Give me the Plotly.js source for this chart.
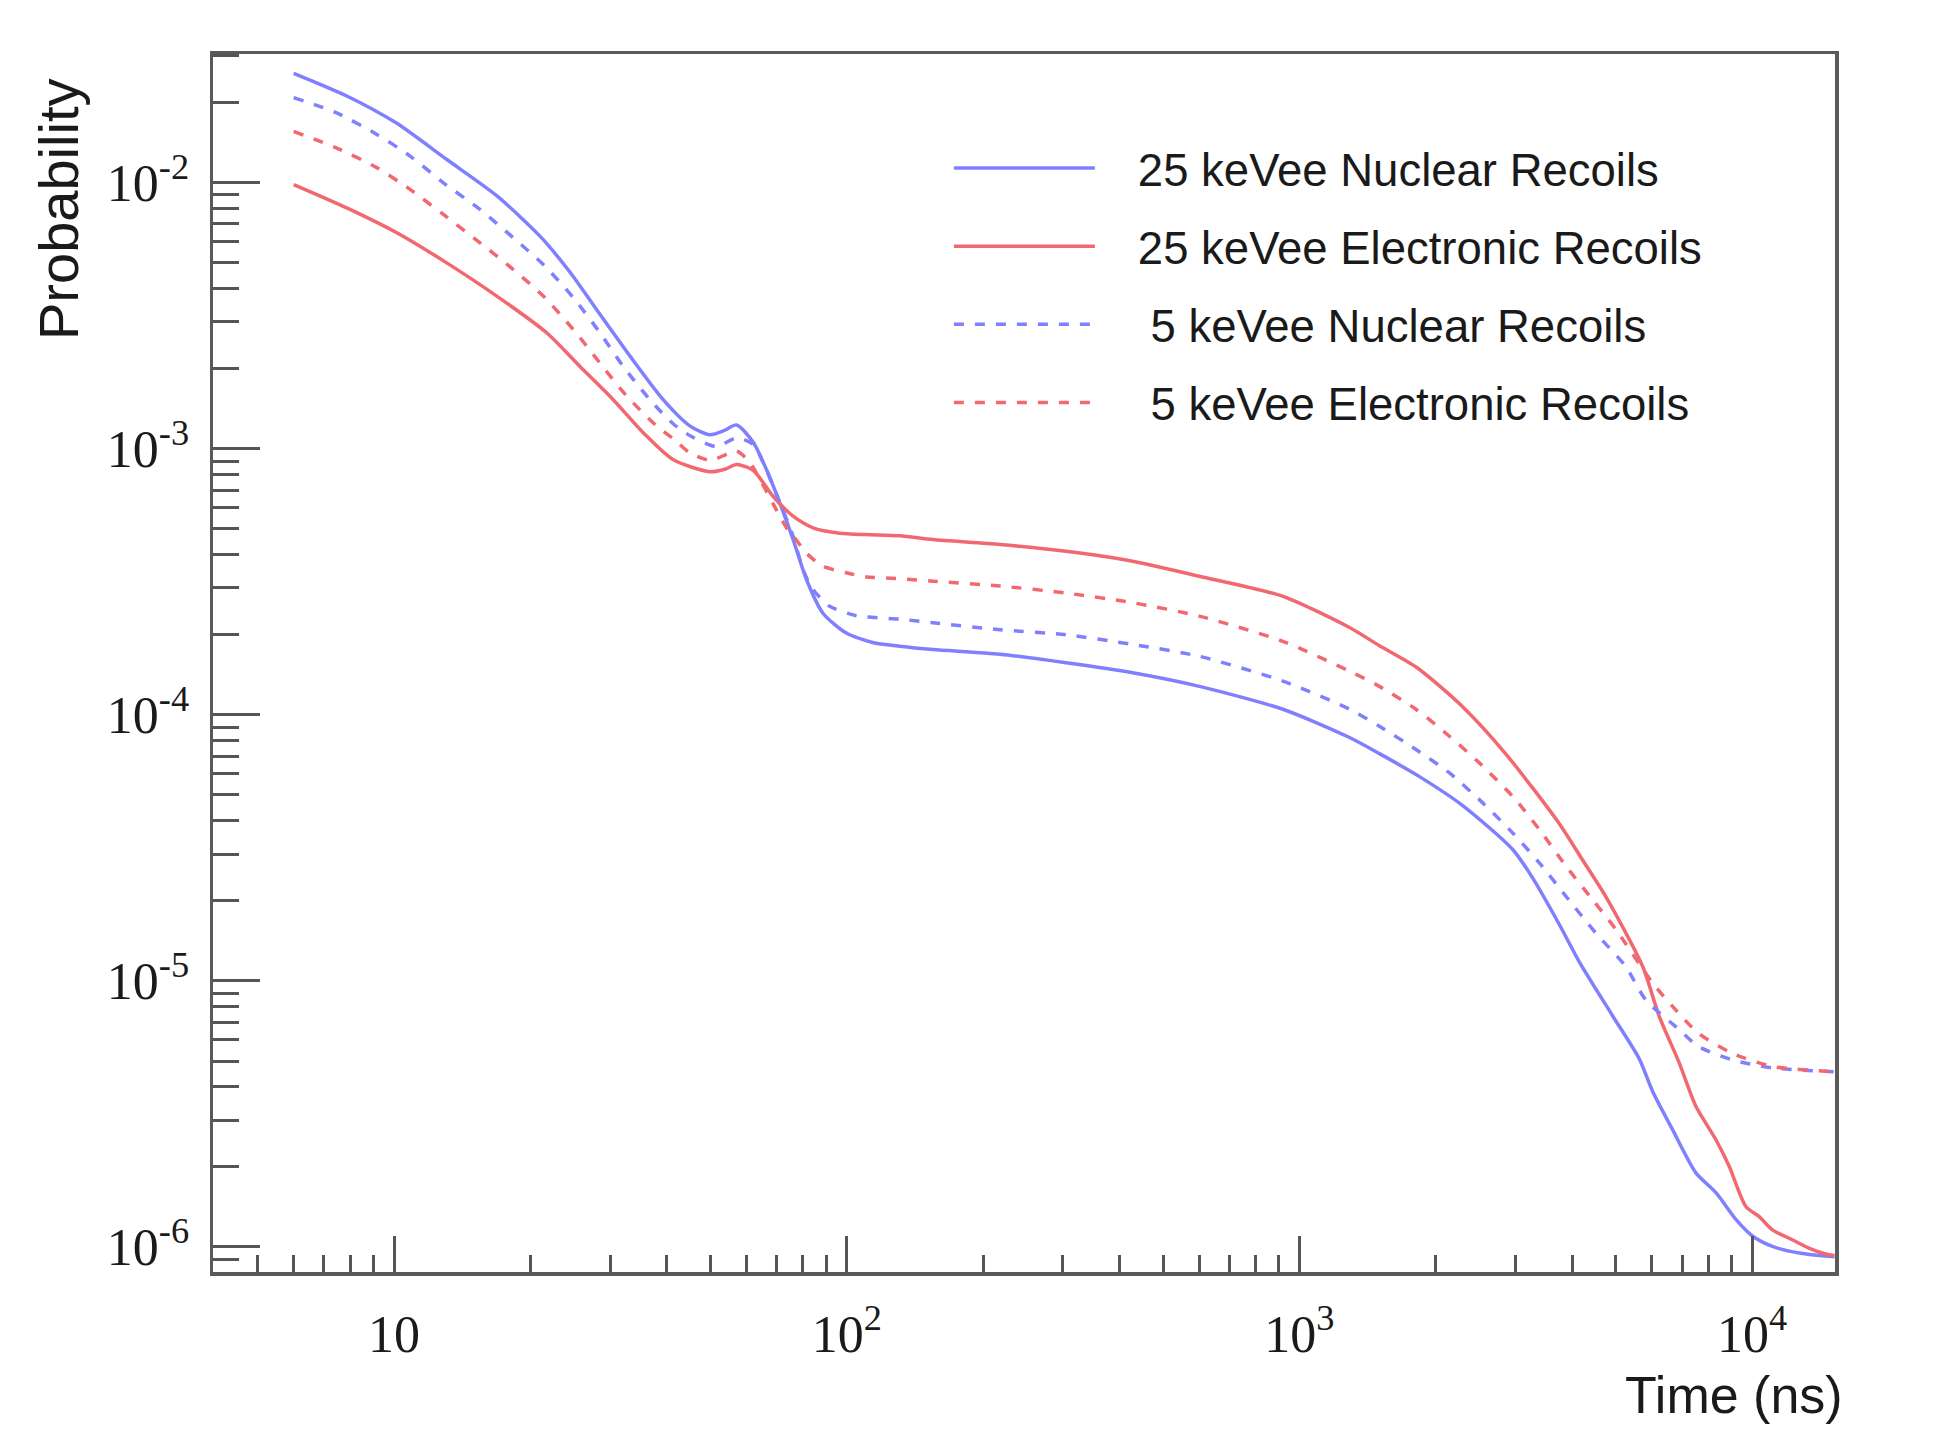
<!DOCTYPE html>
<html>
<head>
<meta charset="utf-8">
<script src="https://cdn.plot.ly/plotly-3.0.1.min.js"></script>
<style>html,body{margin:0;padding:0;background:#fff;}#chart{width:1942px;height:1455px;}</style>
</head>
<body>
<div id="chart"></div>
<script>
// ---- data (time in ns, probability) ----
const seriesNames = ['25 keVee Nuclear Recoils', '25 keVee Electronic Recoils', '5 keVee Nuclear Recoils', '5 keVee Electronic Recoils'];

const nr25Time = [6.0, 7.86, 10.1, 13.1, 16.9, 21.0, 24.5, 28.0, 33.2, 39.3, 45.0, 49.8, 53.5, 57.1, 62.1, 66.5, 71.1, 76.1, 81.5, 88.6, 99.8, 114, 131, 155, 218, 305, 428, 601, 919, 1290, 1502, 1841, 2294, 2958, 3273, 3750, 4150, 4916, 5630, 6025, 6670, 7510, 8318, 9205, 10015, 11086, 12700, 14790, 15200];
const nr25Prob = [0.0258, 0.0212, 0.0168, 0.0122, 0.00891, 0.0063, 0.0046, 0.00334, 0.00223, 0.00153, 0.00122, 0.00113, 0.00117, 0.00123, 0.00106, 0.000834, 0.000627, 0.000457, 0.000322, 0.000241, 0.000203, 0.000187, 0.000181, 0.000176, 0.000169, 0.000157, 0.000144, 0.000128, 0.000105, 8.22e-5, 7.15e-5, 5.86e-5, 4.56e-5, 3.12e-5, 2.44e-5, 1.63e-5, 1.18e-5, 7.4e-6, 5.1e-6, 3.85e-6, 2.76e-6, 1.9e-6, 1.6e-6, 1.27e-6, 1.1e-6, 1.005e-6, 9.49e-7, 9.22e-7, 9.2e-7];

const er25Time = [6.0, 7.86, 10.14, 13.07, 16.86, 21.73, 25.74, 30.49, 35.5, 41.4, 49.8, 54.0, 57.1, 62.1, 68.8, 76.1, 84.2, 96.5, 110.5, 131, 155, 218, 305, 428, 601, 919, 1290, 1502, 1813, 2290, 2864, 3750, 4214, 4761, 5728, 6233, 6901, 7510, 8318, 8897, 9685, 10365, 11086, 12256, 13344, 14766, 15200];
const er25Prob = [0.00985, 0.00805, 0.00649, 0.005, 0.00375, 0.00273, 0.00204, 0.00153, 0.00115, 0.000909, 0.00082, 0.00084, 0.000873, 0.000831, 0.000662, 0.000558, 0.000505, 0.000482, 0.000476, 0.000471, 0.000456, 0.000437, 0.000412, 0.000378, 0.000332, 0.000279, 0.000213, 0.000182, 0.000151, 0.0001075, 7.09e-5, 3.9e-5, 2.86e-5, 2.06e-5, 1.135e-5, 7.36e-6, 4.92e-6, 3.38e-6, 2.53e-6, 2.01e-6, 1.42e-6, 1.3e-6, 1.16e-6, 1.065e-6, 9.91e-7, 9.35e-7, 9.3e-7];

const nr5Time = [6.0, 7.47, 9.16, 10.85, 12.85, 15.48, 18.34, 21.36, 24.88, 28.5, 32.08, 36.74, 41.4, 45.5, 51.6, 57.1, 62.1, 66.5, 71.1, 76.1, 80.1, 84.25, 91.7, 105, 131, 155, 218, 305, 428, 601, 919, 1290, 1502, 1809, 2144, 2540, 2958, 3387, 3879, 4511, 5253, 5818, 6901, 7600, 9005, 11086, 14790, 15200];
const nr5Prob = [0.0209, 0.0183, 0.0152, 0.0126, 0.0100, 0.00794, 0.00621, 0.00493, 0.0037, 0.00273, 0.00204, 0.00153, 0.00124, 0.00111, 0.00102, 0.0011, 0.00104, 0.00083, 0.00063, 0.00047, 0.00035, 0.000296, 0.000256, 0.000236, 0.000229, 0.000222, 0.000209, 0.0002, 0.000184, 0.000166, 0.000134, 0.000105, 9.06e-5, 7.41e-5, 6.05e-5, 4.67e-5, 3.6e-5, 2.78e-5, 2.08e-5, 1.515e-5, 1.135e-5, 8.5e-6, 6.56e-6, 5.68e-6, 5.06e-6, 4.71e-6, 4.57e-6, 4.56e-6];

const er5Time = [6.0, 7.47, 9.16, 10.85, 12.85, 15.48, 18.34, 21.36, 24.88, 28.5, 32.64, 38.01, 41.4, 45.0, 50.0, 57.1, 61.1, 64.3, 68.8, 73.6, 76.1, 81.5, 88.6, 99.8, 110.5, 131, 155, 218, 305, 428, 601, 919, 1290, 1502, 1809, 2144, 2497, 2958, 3387, 3879, 4442, 5001, 6025, 6670, 7600, 9005, 11086, 14790, 15200];
const er5Prob = [0.0156, 0.0135, 0.0114, 0.00944, 0.0076, 0.00595, 0.00472, 0.00375, 0.00281, 0.0021, 0.00158, 0.00122, 0.00109, 0.000966, 0.000905, 0.00098, 0.000888, 0.000767, 0.00062, 0.000505, 0.000472, 0.000405, 0.000362, 0.000342, 0.00033, 0.000325, 0.000318, 0.000305, 0.000287, 0.000264, 0.000235, 0.000189, 0.000146, 0.000128, 0.000105, 8.31e-5, 6.6e-5, 4.94e-5, 3.71e-5, 2.7e-5, 2.02e-5, 1.56e-5, 9.83e-6, 8.02e-6, 6.37e-6, 5.36e-6, 4.77e-6, 4.57e-6, 4.56e-6];

const xTickVals = [10, 100, 1000, 10000];
const xTickText = ['10', '10<sup>2</sup>', '10<sup>3</sup>', '10<sup>4</sup>'];
const yTickVals = [1e-6, 1e-5, 1e-4, 1e-3, 1e-2];
const yTickText = ['10<sup>-6</sup>', '10<sup>-5</sup>', '10<sup>-4</sup>', '10<sup>-3</sup>', '10<sup>-2</sup>'];

// ---- styling ----
const BLUE = 'rgb(128,128,255)';
const RED = 'rgb(242,104,112)';
const NB = '\u00A0';

function minorVals(lo, hi) {
  const v = [];
  for (let e = lo; e <= hi; e++) for (let k = 2; k <= 9; k++) v.push(k * Math.pow(10, e));
  return v;
}

function mk(x, y, name, color, dash, group, pad) {
  return {
    x: x, y: y, name: pad + name, type: 'scatter', mode: 'lines',
    legendgroup: group,
    line: {color: color, width: 3.5, dash: dash, shape: 'spline', smoothing: 0.7},
    hoverinfo: 'x+y+name'
  };
}

const traces = [
  mk(nr25Time, nr25Prob, seriesNames[0], BLUE, 'solid', 'a', NB.repeat(3)),
  mk(er25Time, er25Prob, seriesNames[1], RED, 'solid', 'b', NB.repeat(3)),
  mk(nr5Time, nr5Prob, seriesNames[2], BLUE, '10px,11px', 'c', NB.repeat(4)),
  mk(er5Time, er5Prob, seriesNames[3], RED, '10px,11px', 'd', NB.repeat(4))
];

const axisCommon = {
  type: 'log', showgrid: false, zeroline: false,
  showline: true, linecolor: '#5a5a5a', linewidth: 3.5, mirror: true,
  ticks: 'inside', tickcolor: '#555', tickwidth: 3,
  tickmode: 'array',
  tickfont: {family: 'Liberation Serif, Times New Roman, serif', size: 52, color: '#1a1a1a'}
};

const layout = {
  width: 1942, height: 1455,
  margin: {l: 213, r: 107, t: 54, b: 183},
  paper_bgcolor: '#fff', plot_bgcolor: '#fff',
  showlegend: true,
  legend: {
    x: 0.4537, y: 0.936, xanchor: 'left', yanchor: 'top',
    traceorder: 'grouped', tracegroupgap: 16, itemwidth: 141,
    font: {family: 'Liberation Sans, Arial, sans-serif', size: 45.5, color: '#1a1a1a'},
    bgcolor: 'rgba(0,0,0,0)', borderwidth: 0
  },
  xaxis: Object.assign({}, axisCommon, {
    range: [0.600, 4.183], tickvals: xTickVals, ticktext: xTickText, ticklen: 36,
    ticklabelstandoff: 14,
    minor: {tickmode: 'array', tickvals: minorVals(0, 4), ticks: 'inside', ticklen: 17, tickwidth: 3, tickcolor: '#555', showgrid: false}
  }),
  yaxis: Object.assign({}, axisCommon, {
    range: [-6.094, -1.516], tickvals: yTickVals, ticktext: yTickText, ticklen: 47,
    ticklabelstandoff: 10,
    minor: {tickmode: 'array', tickvals: minorVals(-7, -2), ticks: 'inside', ticklen: 26, tickwidth: 3, tickcolor: '#555', showgrid: false}
  }),
  annotations: [
    {text: 'Probability', xref: 'paper', yref: 'paper', x: 0, y: 1, xshift: -155, yshift: -156,
     xanchor: 'center', yanchor: 'middle', textangle: -90, showarrow: false,
     font: {family: 'Liberation Sans, Arial, sans-serif', size: 56, color: '#1a1a1a'}},
    {text: 'Time (ns)', xref: 'paper', yref: 'paper', x: 1, y: 0, xshift: 10, yshift: -123,
     xanchor: 'right', yanchor: 'middle', showarrow: false,
     font: {family: 'Liberation Sans, Arial, sans-serif', size: 52, color: '#1a1a1a'}}
  ]
};

Plotly.newPlot('chart', traces, layout, {displayModeBar: false, staticPlot: true});
</script>
</body>
</html>
